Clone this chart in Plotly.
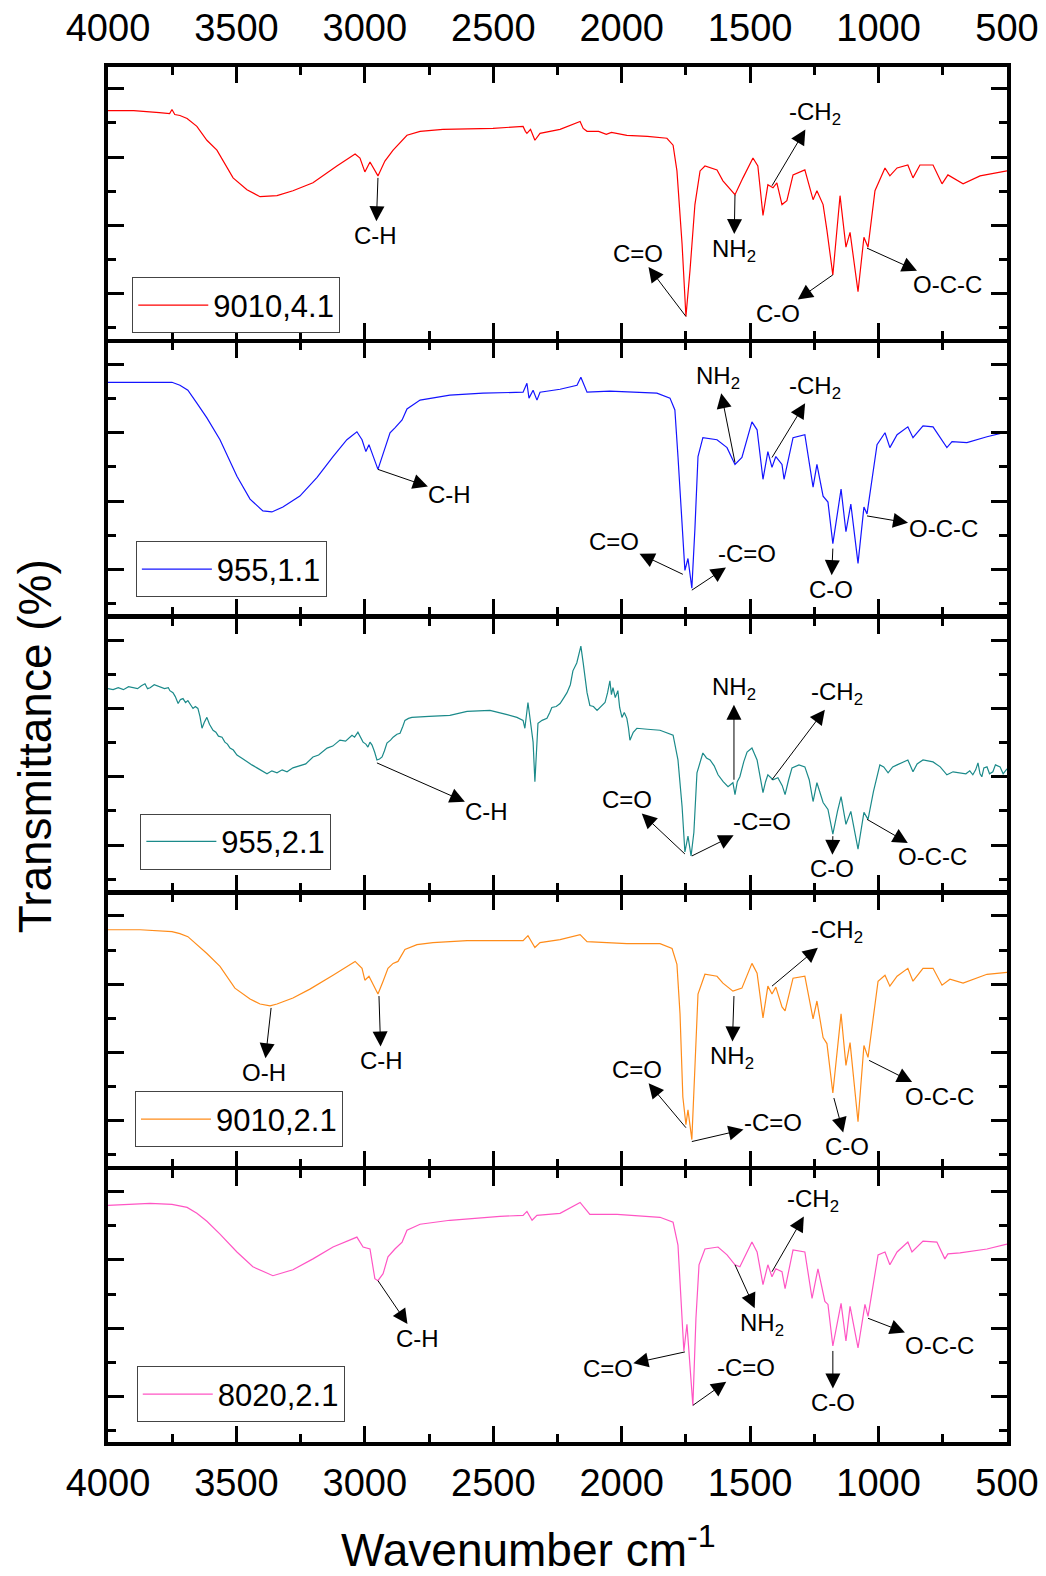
import plotly.graph_objects as go
from plotly.subplots import make_subplots

# ---------------- data (wavenumber cm-1, transmittance a.u.) ----------------
labels = ["9010,4.1", "955,1.1", "955,2.1", "9010,2.1", "8020,2.1"]
colors = ["#FF0000", "#1414FF", "#1B8A8A", "#FF8C1A", "#FF55C4"]

wn_9010_41 = [4000, 3900, 3800, 3760, 3751, 3740, 3720, 3692, 3654, 3615, 3576, 3513, 3459, 3408, 3342, 3280,
              3202, 3109, 3038, 3019, 3000, 2980, 2949, 2922, 2890, 2863, 2836, 2785, 2696, 2501, 2384, 2375,
              2369, 2355, 2338, 2318, 2240, 2162, 2150, 2135, 2090, 2060, 2040, 1980, 1900, 1824, 1800, 1785,
              1765, 1750, 1734, 1715, 1695, 1676, 1629, 1606, 1559, 1528, 1489, 1470, 1450, 1431, 1411, 1396,
              1376, 1357, 1333, 1287, 1275, 1255, 1240, 1216, 1201, 1178, 1150, 1127, 1111, 1080, 1057, 1041,
              1014, 975, 956, 928, 886, 866, 839, 788, 753, 730, 671, 605, 500]
t_9010_41 = [231, 231, 229, 228, 232, 227, 226, 223, 215, 201, 191, 163, 151, 144, 145, 150,
             158, 175, 187, 183, 169, 179, 165, 180, 191, 198, 206, 210, 212, 213, 215, 210,
             208, 212, 201, 208, 212, 220, 213, 210, 210, 207, 209, 206, 205, 203, 196, 170,
             96, 23, 70, 136, 170, 175, 171, 160, 146, 163, 183, 175, 125, 156, 153, 158,
             136, 140, 166, 171, 160, 141, 150, 136, 110, 65, 145, 93, 108, 48, 103, 93,
             150, 173, 165, 173, 176, 163, 176, 176, 157, 166, 157, 165, 170]

wn_955_11 = [4000, 3751, 3720, 3689, 3654, 3615, 3564, 3498, 3447, 3397, 3362, 3319, 3253, 3186, 3124, 3070,
             3031, 3011, 2996, 2984, 2949, 2929, 2902, 2883, 2855, 2836, 2785, 2669, 2540, 2384, 2369, 2361,
             2345, 2330, 2318, 2240, 2174, 2159, 2135, 2046, 1863, 1812, 1793, 1781, 1765, 1754, 1742, 1727,
             1715, 1703, 1684, 1629, 1590, 1559, 1532, 1493, 1473, 1450, 1431, 1415, 1400, 1376, 1368, 1333,
             1287, 1255, 1240, 1216, 1197, 1178, 1146, 1127, 1108, 1080, 1057, 1045, 1006, 975, 956, 928,
             886, 866, 827, 788, 734, 714, 656, 578, 500]
t_955_11 = [235, 235, 232, 227, 214, 199, 177, 140, 117, 105, 104, 109, 120, 139, 160, 177,
            185, 177, 165, 172, 147, 162, 184, 189, 197, 208, 217, 222, 224, 225, 234, 219,
            227, 217, 225, 228, 232, 240, 225, 226, 224, 219, 207, 160, 87, 45, 57, 27,
            87, 160, 179, 177, 169, 152, 159, 195, 187, 137, 165, 149, 160, 152, 137, 179,
            182, 129, 152, 120, 114, 72, 127, 84, 112, 52, 109, 102, 172, 184, 169, 182,
            190, 179, 191, 190, 169, 175, 174, 180, 185]

wn_955_21 = [4000, 3980, 3960, 3940, 3920, 3903, 3885, 3870, 3856, 3846, 3836, 3820, 3798, 3780, 3765, 3759,
             3747, 3738, 3727, 3718, 3708, 3698, 3689, 3680, 3669, 3660, 3650, 3642, 3634, 3625, 3615, 3605,
             3591, 3580, 3570, 3556, 3545, 3535, 3525, 3512, 3498, 3480, 3459, 3440, 3420, 3400, 3381, 3362,
             3342, 3322, 3303, 3280, 3253, 3230, 3202, 3180, 3147, 3125, 3097, 3075, 3050, 3040, 3027, 3017,
             3007, 2996, 2988, 2980, 2972, 2962, 2953, 2943, 2933, 2924, 2914, 2900, 2890, 2875, 2863, 2852,
             2844, 2830, 2817, 2750, 2669, 2602, 2513, 2450, 2408, 2384, 2377, 2365, 2353, 2345, 2338, 2332,
             2326, 2310, 2291, 2280, 2272, 2255, 2240, 2225, 2213, 2200, 2190, 2175, 2165, 2159, 2150, 2143,
             2135, 2124, 2110, 2096, 2080, 2065, 2055, 2046, 2040, 2034, 2025, 2015, 2008, 1999, 1990, 1980,
             1974, 1968, 1955, 1941, 1900, 1851, 1800, 1781, 1765, 1754, 1742, 1730, 1719, 1707, 1684, 1670,
             1656, 1640, 1625, 1605, 1586, 1567, 1559, 1550, 1540, 1525, 1512, 1493, 1473, 1460, 1450, 1440,
             1431, 1411, 1392, 1375, 1364, 1350, 1337, 1310, 1287, 1270, 1255, 1240, 1216, 1197, 1178, 1160,
             1146, 1127, 1108, 1080, 1057, 1041, 1020, 995, 980, 963, 945, 928, 905, 886, 866, 850,
             827, 788, 760, 734, 710, 683, 660, 645, 633, 622, 613, 605, 598, 590, 578, 568,
             555, 545, 527, 515, 500]
t_955_21 = [204, 203, 205, 203, 206, 205, 204, 207, 209, 204, 205, 208, 206, 204, 205, 202,
            200, 196, 189, 193, 194, 190, 192, 188, 184, 186, 184, 176, 164, 170, 175, 168,
            162, 160, 156, 155, 150, 148, 144, 142, 137, 134, 130, 127, 124, 121, 118, 121,
            119, 122, 120, 124, 126, 128, 135, 137, 144, 146, 152, 151, 157, 155, 160, 155,
            150, 148, 145, 150, 147, 140, 132, 133, 135, 141, 149, 152, 155, 158, 159, 166,
            172, 174, 175, 176, 177, 181, 182, 178, 175, 172, 164, 190, 162, 150, 110, 140,
            169, 172, 174, 180, 185, 186, 189, 195, 200, 208, 222, 230, 240, 247, 230, 215,
            200, 187, 186, 182, 186, 190, 200, 212, 198, 205, 195, 202, 185, 175, 180, 174,
            165, 152, 160, 164, 163, 162, 157, 132, 85, 39, 55, 35, 59, 119, 139, 134,
            132, 126, 117, 110, 105, 109, 97, 110, 115, 130, 140, 144, 132, 115, 99, 110,
            117, 112, 114, 106, 97, 112, 124, 127, 125, 112, 90, 109, 89, 82, 57, 80,
            95, 67, 80, 42, 79, 72, 100, 127, 125, 119, 125, 127, 130, 132, 120, 128,
            132, 130, 125, 117, 120, 119, 118, 121, 117, 122, 129, 118, 115, 124, 125, 118,
            120, 127, 125, 118, 123]

wn_9010_21 = [4000, 3875, 3751, 3720, 3689, 3654, 3615, 3564, 3506, 3447, 3408, 3369, 3342, 3280, 3214, 3124,
              3038, 3011, 3000, 2984, 2949, 2929, 2910, 2890, 2871, 2844, 2797, 2735, 2602, 2384, 2365, 2338,
              2318, 2240, 2162, 2135, 1980, 1851, 1804, 1785, 1773, 1762, 1750, 1742, 1727, 1715, 1703, 1676,
              1629, 1606, 1567, 1532, 1493, 1473, 1450, 1431, 1415, 1400, 1376, 1364, 1333, 1287, 1255, 1240,
              1216, 1201, 1178, 1146, 1127, 1111, 1080, 1057, 1041, 1002, 975, 956, 928, 886, 866, 827,
              788, 753, 722, 671, 578, 500]
t_9010_21 = [239, 239, 237, 235, 232, 224, 215, 202, 180, 169, 164, 162, 164, 170, 179, 193,
             207, 200, 188, 192, 174, 187, 200, 205, 207, 219, 224, 226, 228, 228, 233, 221,
             226, 229, 234, 227, 225, 225, 220, 204, 154, 70, 42, 57, 27, 100, 174, 194,
             192, 185, 177, 180, 205, 195, 150, 182, 174, 181, 161, 157, 190, 192, 149, 167,
             130, 124, 74, 154, 102, 125, 45, 122, 110, 187, 193, 182, 192, 200, 187, 200,
             200, 183, 189, 185, 194, 196]

wn_8020_21 = [4000, 3836, 3751, 3692, 3654, 3615, 3564, 3498, 3436, 3358, 3280, 3202, 3124, 3031, 3007, 2980,
              2961, 2949, 2929, 2910, 2883, 2855, 2836, 2785, 2669, 2474, 2384, 2369, 2349, 2330, 2240, 2162,
              2124, 2018, 1851, 1800, 1781, 1765, 1758, 1746, 1734, 1723, 1711, 1699, 1676, 1625, 1590, 1559,
              1540, 1493, 1473, 1450, 1431, 1415, 1400, 1376, 1364, 1333, 1287, 1259, 1236, 1209, 1197, 1178,
              1146, 1127, 1111, 1080, 1053, 1041, 1002, 975, 956, 928, 886, 870, 827, 773, 742, 730,
              683, 578, 500]
t_8020_21 = [239, 241, 240, 237, 231, 223, 210, 192, 177, 168, 174, 185, 197, 207, 197, 195,
             165, 163, 170, 187, 195, 202, 214, 220, 224, 228, 229, 233, 224, 229, 231, 242,
             230, 230, 227, 222, 199, 119, 92, 119, 75, 37, 125, 179, 195, 197, 189, 179,
             177, 202, 192, 159, 179, 167, 175, 172, 155, 194, 192, 145, 175, 142, 139, 97,
             140, 102, 137, 95, 139, 127, 189, 192, 179, 192, 202, 192, 203, 202, 185, 190,
             191, 195, 200]

wavenumbers = [wn_9010_41, wn_955_11, wn_955_21, wn_9010_21, wn_8020_21]
transmittance = [t_9010_41, t_955_11, t_955_21, t_9010_21, t_8020_21]

# band assignments per panel: (label, band_wn, band_t, label_wn, label_t)
bands = [
    [("C-H", 2949, 163, 2957, 105),
     ("C=O", 1750, 23, 1937, 87),
     ("NH<sub>2</sub>", 1559, 146, 1563, 90),
     ("-CH<sub>2</sub>", 1415, 155, 1248, 228),
     ("C-O", 1178, 65, 1392, 26),
     ("O-C-C", 1045, 92, 730, 55)],
    [("C-H", 2949, 147, 2669, 122),
     ("NH<sub>2</sub>", 1559, 154, 1625, 240),
     ("-CH<sub>2</sub>", 1415, 159, 1248, 230),
     ("C=O", 1762, 41, 2030, 74),
     ("-C=O", 1727, 25, 1512, 62),
     ("C-O", 1178, 67, 1185, 26),
     ("O-C-C", 1045, 100, 749, 87)],
    [("C-H", 2953, 129, 2525, 80),
     ("NH<sub>2</sub>", 1563, 112, 1563, 204),
     ("-CH<sub>2</sub>", 1415, 112, 1162, 199),
     ("C=O", 1754, 37, 1980, 92),
     ("-C=O", 1727, 35, 1454, 70),
     ("C-O", 1178, 55, 1181, 22),
     ("O-C-C", 1045, 72, 792, 34)],
    [("O-H", 3365, 160, 3393, 95),
     ("C-H", 2945, 172, 2937, 107),
     ("-CH<sub>2</sub>", 1415, 182, 1162, 237),
     ("NH<sub>2</sub>", 1563, 172, 1571, 110),
     ("C=O", 1750, 39, 1941, 98),
     ("-C=O", 1727, 25, 1411, 44),
     ("C-O", 1174, 69, 1123, 20),
     ("O-C-C", 1037, 107, 761, 71)],
    [("C-H", 2949, 163, 2797, 105),
     ("-CH<sub>2</sub>", 1415, 172, 1255, 244),
     ("NH<sub>2</sub>", 1559, 179, 1454, 119),
     ("C=O", 1754, 91, 2054, 74),
     ("-C=O", 1723, 37, 1516, 75),
     ("C-O", 1178, 92, 1178, 40),
     ("O-C-C", 1041, 125, 761, 97)],
]

legend_pos = [(0.027, 0.847), (0.031, 0.655), (0.036, 0.457), (0.030, 0.255), (0.032, 0.055)]

FONT = "Liberation Sans, Arial, sans-serif"
LW = 3.5
PLOT_H = 1375

fig = make_subplots(rows=5, cols=1, vertical_spacing=LW / PLOT_H)

annotations = []
for i in range(5):
    row = i + 1
    sfx = "" if i == 0 else str(row)
    leg = "legend" if i == 0 else f"legend{row}"
    fig.add_trace(go.Scatter(x=wavenumbers[i], y=transmittance[i], mode="lines", name=labels[i],
                             line=dict(color=colors[i], width=1.2), legend=leg, showlegend=True),
                  row=row, col=1)
    fig.update_layout({leg: dict(x=legend_pos[i][0], y=legend_pos[i][1], xanchor="left", yanchor="top",
                                 bgcolor="white", bordercolor="#444", borderwidth=1,
                                 font=dict(family=FONT, size=31, color="black"), itemwidth=70,
                                 tracegroupgap=0)})
    for (txt, bwn, bt, lwn, lt) in bands[i]:
        annotations.append(dict(x=bwn, y=bt, ax=lwn, ay=lt, xref=f"x{sfx}", yref=f"y{sfx}",
                                axref=f"x{sfx}", ayref=f"y{sfx}", text=txt, showarrow=True,
                                arrowside="start", startarrowhead=2, startarrowsize=3, arrowwidth=1,
                                arrowcolor="black", standoff=0, startstandoff=0, borderpad=0,
                                font=dict(family=FONT, size=24, color="black")))

    fig.update_xaxes(range=[4000, 500], autorange=False, automargin=False, tick0=500, dtick=500,
                     ticks="inside", ticklen=16, tickwidth=3, tickcolor="black",
                     minor=dict(dtick=250, tick0=500, ticks="inside", ticklen=8, tickwidth=3, tickcolor="black"),
                     showline=True, linewidth=LW, linecolor="black", mirror="allticks", showgrid=False,
                     zeroline=False, showticklabels=(i == 0 or i == 4), side=("top" if i == 0 else "bottom"),
                     ticklabelstandoff=(7 if i == 0 else 5),
                     tickfont=dict(family=FONT, size=38, color="black"), row=row, col=1)
    fig.update_yaxes(range=[0, 275], autorange=False, automargin=False, tick0=46, dtick=69,
                     ticks="inside", ticklen=16, tickwidth=3, tickcolor="black",
                     minor=dict(tick0=11.5, dtick=34.5, ticks="inside", ticklen=8, tickwidth=3, tickcolor="black"),
                     showline=True, linewidth=LW, linecolor="black", mirror="allticks", showgrid=False,
                     zeroline=False, showticklabels=False, row=row, col=1)

annotations.append(dict(x=-0.0812, y=0.506, xref="paper", yref="paper", text="Transmittance (%)",
                        xanchor="center", yanchor="middle",
                        textangle=-90, showarrow=False, font=dict(family=FONT, size=46, color="black")))
annotations.append(dict(x=0.468, y=-0.0765, xref="paper", yref="paper", text="Wavenumber cm<sup>-1</sup>",
                        xanchor="center", yanchor="middle",
                        showarrow=False, font=dict(family=FONT, size=46, color="black")))

fig.update_layout(width=1046, height=1576, margin=dict(l=108, r=39, t=67, b=134, autoexpand=False),
                  paper_bgcolor="white", plot_bgcolor="white", annotations=annotations,
                  font=dict(family=FONT, color="black"))

# remove the browser's default page margin so the figure fills the window exactly
fig.write_html("out.html", config={"displayModeBar": False},
               post_script="document.body.style.margin='0';")
